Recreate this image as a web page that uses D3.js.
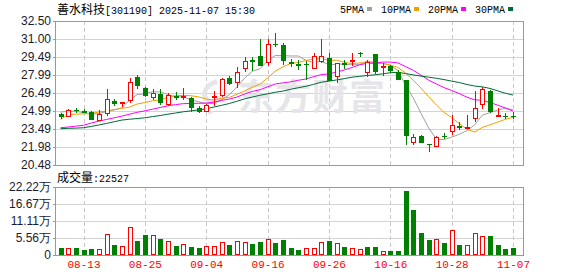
<!DOCTYPE html>
<html>
<head>
<meta charset="utf-8">
<script src="https://cdn.jsdelivr.net/npm/d3@7"></script>
<style>
  body { margin: 0; background: #fff; }
  svg { display: block; }
</style>
</head>
<body>
<div id="chart"></div>
<script>
// trading days shown (MM-DD)
const dates = ['08-08','08-11','08-12','08-13','08-14','08-15','08-18','08-19','08-20','08-21','08-22',
  '08-25','08-26','08-27','08-28','08-29','09-01','09-02','09-03','09-04','09-05',
  '09-08','09-09','09-10','09-11','09-12','09-15','09-16','09-17','09-18','09-19',
  '09-22','09-23','09-24','09-25','09-26','09-29','09-30','10-09','10-10',
  '10-13','10-14','10-15','10-16','10-17','10-20','10-21','10-22','10-23','10-24',
  '10-27','10-28','10-29','10-30','10-31','11-03','11-04','11-05','11-06','11-07'];

const opens = [24.75,24.48,25.06,25.00,24.92,24.17,24.75,25.86,25.58,25.80,27.85,26.91,26.08,26.44,25.50,26.22,26.05,26.05,25.25,24.92,
  26.05,26.27,27.74,27.33,28.49,29.22,29.59,28.98,30.59,30.51,29.10,28.88,28.88,28.52,29.04,29.40,27.82,28.98,29.10,29.82,
  28.16,29.71,28.54,28.71,28.21,27.55,22.35,22.90,22.26,22.01,22.93,23.24,23.70,23.51,24.28,25.47,26.63,24.62,24.54,24.54];
const highs = [24.80,25.19,25.20,25.17,24.95,25.06,26.85,26.03,25.78,27.74,28.02,26.95,26.80,26.80,26.52,26.60,26.91,26.14,25.44,25.58,
  26.63,27.75,27.93,28.65,29.48,29.48,31.00,31.00,31.48,30.65,29.32,29.26,29.20,29.82,31.00,29.82,29.00,29.26,29.82,29.95,
  29.26,29.75,28.98,28.85,28.43,27.60,23.04,22.96,22.26,22.90,23.18,24.62,24.10,24.62,26.63,26.99,26.71,25.25,24.78,24.87];
const lows = [24.35,24.45,24.85,24.80,24.23,24.15,24.59,25.44,25.31,25.67,26.83,26.14,25.94,25.53,25.44,25.94,25.94,24.89,24.83,24.92,
  25.44,26.16,27.19,26.91,28.21,28.35,28.71,28.71,30.37,28.85,28.65,28.43,27.60,28.50,29.00,27.45,27.32,28.52,28.71,29.48,
  27.82,28.10,27.88,28.16,27.58,22.12,22.12,22.29,21.60,22.00,22.62,22.99,23.43,23.46,24.06,25.17,24.78,24.59,24.29,24.29];
const closes = [24.48,25.08,25.00,24.84,24.23,24.70,25.99,25.61,25.75,27.41,27.05,26.27,26.52,25.67,26.36,26.05,26.25,25.25,24.89,25.50,
  26.27,27.70,27.27,28.24,29.18,29.10,28.76,30.59,30.48,29.12,28.93,28.77,28.80,29.55,29.62,27.50,28.98,28.85,29.26,29.73,
  29.04,28.21,28.71,28.30,27.60,22.90,22.85,22.35,22.21,22.82,22.78,23.85,23.60,23.68,25.25,26.85,24.89,24.65,24.51,24.48];

// volume in lots (手)
const volumes = [22800,22800,22800,17400,19600,19600,67400,32600,29300,90200,45700,65200,64100,52200,44600,29300,34800,26100,22800,29300,
  29300,41300,32600,44600,41300,35900,42400,51100,39100,48900,22800,16300,22800,22800,41300,45700,38000,26100,22800,19600,
  26100,26100,12000,13000,13000,208700,146700,71700,48900,51100,39100,80400,32600,32600,70700,62000,62000,32600,19600,22527];

const ma5 = [24.89,24.97,24.97,24.84,24.73,24.77,24.95,25.07,25.26,25.89,26.36,26.42,26.60,26.58,26.37,26.17,26.17,25.92,25.76,25.59,
  25.63,25.92,26.33,27.00,27.73,28.30,28.51,29.17,29.62,29.61,29.58,29.58,29.22,29.03,29.13,28.85,28.89,28.90,28.84,28.86,
  29.17,29.02,28.99,28.80,28.37,27.14,26.07,24.80,23.58,22.63,22.60,22.80,23.05,23.35,23.83,24.65,24.85,25.06,25.23,25.08];
const ma10 = [24.28,24.70,24.72,24.75,24.78,24.90,25.00,25.10,25.20,25.31,25.57,25.69,25.84,25.92,26.13,26.27,26.29,26.26,26.17,25.98,
  25.90,26.05,26.12,26.38,26.66,26.97,27.22,27.75,28.31,28.67,28.94,29.04,29.20,29.33,29.37,29.21,29.23,29.06,28.94,29.00,
  29.01,28.95,28.95,28.82,28.62,28.16,27.55,26.90,26.19,25.50,24.87,24.44,23.93,23.46,23.23,23.62,23.83,24.06,24.29,24.45];
const ma20 = [23.59,23.65,23.72,23.80,23.98,24.14,24.28,24.42,24.56,24.72,24.88,25.00,25.14,25.28,25.42,25.52,25.60,25.62,25.63,25.65,
  25.73,25.87,25.98,26.15,26.40,26.62,26.76,27.00,27.24,27.33,27.42,27.55,27.66,27.85,28.02,28.09,28.23,28.41,28.62,28.84,
  28.97,29.00,29.07,29.07,29.00,28.69,28.39,27.98,27.56,27.25,26.94,26.70,26.44,26.14,25.92,25.89,25.69,25.48,25.24,24.98];
const ma30 = [23.51,23.54,23.56,23.59,23.70,23.82,23.95,24.09,24.23,24.30,24.36,24.42,24.52,24.61,24.72,24.82,24.92,25.00,25.08,25.17,
  25.32,25.46,25.61,25.80,26.00,26.15,26.30,26.42,26.55,26.65,26.80,26.93,27.05,27.21,27.39,27.48,27.58,27.69,27.81,27.88,
  27.95,28.01,28.09,28.18,28.22,28.11,28.00,27.90,27.81,27.72,27.61,27.48,27.36,27.20,27.07,27.00,26.87,26.67,26.47,26.32];

const priceTicks = [32.50, 31.00, 29.49, 27.99, 26.49, 24.99, 23.49, 21.98, 20.48];
const volTicks = [0, 55555, 111111, 166666, 222222];
const volTickLabels = ['0', '5.56万', '11.11万', '16.67万', '22.22万'];
const labelDates = ['08-13','08-25','09-04','09-16','09-26','10-16','10-28','11-07'];
const maNames = ['5PMA', '10PMA', '20PMA', '30PMA'];
const maSeries = [ma5, ma10, ma20, ma30];

const width = 578, height = 276;
const main = {top: 21, bottom: 165, left: 55, right: 523};
const vol = {top: 187, bottom: 255};
const up = '#ff0000', down = '#008000';
const maColors = ['#a0a0a0', '#f0a000', '#ff00ff', '#006a35'];
const mono = '"Liberation Mono", "DejaVu Sans Mono", monospace';
const cjk = '"Noto Sans CJK SC", sans-serif';
const sans = '"Liberation Sans", Arial, sans-serif';

const svg = d3.select('#chart').append('svg')
  .attr('width', width)
  .attr('height', height);

const x = d3.scalePoint().domain(dates).range([60.5, 513]);
const y = d3.scaleLinear().domain([20.48, 32.50]).range([main.bottom, main.top]);
const yv = d3.scaleLinear().domain([0, 222222]).range([vol.bottom, vol.top]);
const px = d => Math.round(x(d)) + 0.5;

// title
const title = svg.append('text').attr('x', 57).attr('y', 14).attr('fill', '#000');
title.append('tspan').style('font-family', cjk).style('font-size', '12px').text('善水科技');
title.append('tspan').style('font-family', mono).style('font-size', '10px').text('[301190] 2025-11-07 15:30');

// legend
let lx = 340;
maNames.forEach((name, i) => {
  const t = svg.append('text').attr('x', lx).attr('y', 13)
    .style('font-family', mono).style('font-size', '10px').attr('fill', '#000').text(name);
  const w = t.node().getComputedTextLength();
  svg.append('rect').attr('x', lx + w + 3).attr('y', 7).attr('width', 5).attr('height', 4).attr('fill', maColors[i]);
  lx += w + 17;
});

// grids
function hgrid(vals, scale) {
  svg.append('g').selectAll('line').data(vals).join('line')
    .attr('x1', main.left).attr('x2', main.right)
    .attr('y1', d => Math.round(scale(d)) + 0.5).attr('y2', d => Math.round(scale(d)) + 0.5)
    .attr('stroke', '#d4d4d4');
}
function vgrid(top, bottom) {
  svg.append('g').selectAll('line').data(labelDates).join('line')
    .attr('x1', px).attr('x2', px).attr('y1', top).attr('y2', bottom)
    .attr('stroke', '#c8c8c8').attr('stroke-dasharray', '4,3');
}
hgrid(priceTicks, y);
vgrid(main.top, main.bottom);
hgrid(volTicks, yv);
vgrid(vol.top, vol.bottom);

// watermark
const wm = svg.append('g').attr('fill', '#e4e4e8').attr('opacity', 0.9);
wm.append('path')
  .attr('d', 'M216,79 C203,84 198,95 206,102 C212,107 221,104 224,98 L219,96 C216,100 210,101 208,97 C205,91 210,86 218,84 Z M204,106 L214,112 L209,115 Z')
  .attr('fill', '#e4e4e8');
wm.append('text').attr('x', 238).attr('y', 110)
  .style('font-family', cjk).style('font-size', '36px').style('font-weight', 'bold')
  .attr('letter-spacing', 1).text('东方财富');

// moving averages
maSeries.forEach((s, i) => {
  svg.append('path').datum(s)
    .attr('fill', 'none').attr('stroke', maColors[i]).attr('stroke-width', 1)
    .attr('d', d3.line().x((d, j) => x(dates[j])).y(d => y(d)));
});

// candles
const candles = svg.append('g').attr('shape-rendering', 'crispEdges');
dates.forEach((d, i) => {
  const cx = px(d);
  const o = opens[i], c = closes[i];
  const rise = c >= o;
  const yt = Math.round(y(Math.max(o, c))), yb = Math.round(y(Math.min(o, c)));
  const yh = Math.round(y(highs[i])), yl = Math.round(y(lows[i]));
  const col = rise ? up : down;
  if (rise) {
    if (yh < yt) candles.append('line').attr('x1', cx).attr('x2', cx).attr('y1', yh).attr('y2', yt).attr('stroke', col);
    if (yl > yb) candles.append('line').attr('x1', cx).attr('x2', cx).attr('y1', yb).attr('y2', yl).attr('stroke', col);
    candles.append('rect').attr('x', cx - 2).attr('y', yt + 0.5).attr('width', 4).attr('height', Math.max(yb - yt - 1, 0.5))
      .attr('fill', '#fff').attr('stroke', col);
  } else {
    candles.append('line').attr('x1', cx).attr('x2', cx).attr('y1', yh).attr('y2', yl).attr('stroke', col);
    candles.append('rect').attr('x', cx - 2.5).attr('y', yt).attr('width', 5).attr('height', Math.max(yb - yt, 1))
      .attr('fill', col);
  }
});

// volume bars, coloured by close against the previous close
const bars = svg.append('g').attr('shape-rendering', 'crispEdges');
dates.forEach((d, i) => {
  const cx = px(d);
  const prev = i > 0 ? closes[i - 1] : opens[i];
  const rise = closes[i] >= prev;
  const top = Math.round(yv(volumes[i]));
  if (rise) {
    bars.append('rect').attr('x', cx - 2).attr('y', top + 0.5).attr('width', 4).attr('height', vol.bottom - top - 1)
      .attr('fill', '#fff').attr('stroke', up);
  } else {
    bars.append('rect').attr('x', cx - 2.5).attr('y', top).attr('width', 5).attr('height', vol.bottom - top)
      .attr('fill', down);
  }
});

// frames
[[main.top, main.bottom], [vol.top, vol.bottom]].forEach(([t, b]) => {
  svg.append('rect').attr('x', main.left + 0.5).attr('y', t + 0.5)
    .attr('width', main.right - main.left).attr('height', b - t)
    .attr('fill', 'none').attr('stroke', '#999');
});

// axes
const yAxis = svg.append('g').attr('transform', `translate(${main.left},0)`)
  .call(d3.axisLeft(y).tickValues(priceTicks).tickFormat(d3.format('.2f')).tickSize(2).tickPadding(2));
const yvAxis = svg.append('g').attr('transform', `translate(${main.left},0)`)
  .call(d3.axisLeft(yv).tickValues(volTicks).tickFormat((d, i) => volTickLabels[i]).tickSize(2).tickPadding(2));
[yAxis, yvAxis].forEach(g => {
  g.select('.domain').remove();
  g.selectAll('line').attr('stroke', '#999');
  g.selectAll('text').style('font-family', sans).style('font-size', '12px').attr('fill', '#1a1a2e');
});

const xAxis = svg.append('g').attr('transform', `translate(0,${vol.bottom})`)
  .call(d3.axisBottom(x).tickValues(labelDates).tickSize(0).tickPadding(5));
xAxis.select('.domain').remove();
xAxis.selectAll('text').style('font-family', mono).style('font-size', '11px').attr('fill', '#ff0000');

// volume caption
const vt = svg.append('text').attr('x', 57).attr('y', 182).attr('fill', '#000');
vt.append('tspan').style('font-family', cjk).style('font-size', '12px').text('成交量');
vt.append('tspan').style('font-family', mono).style('font-size', '10px').text(':' + volumes[volumes.length - 1]);
</script>
</body>
</html>
